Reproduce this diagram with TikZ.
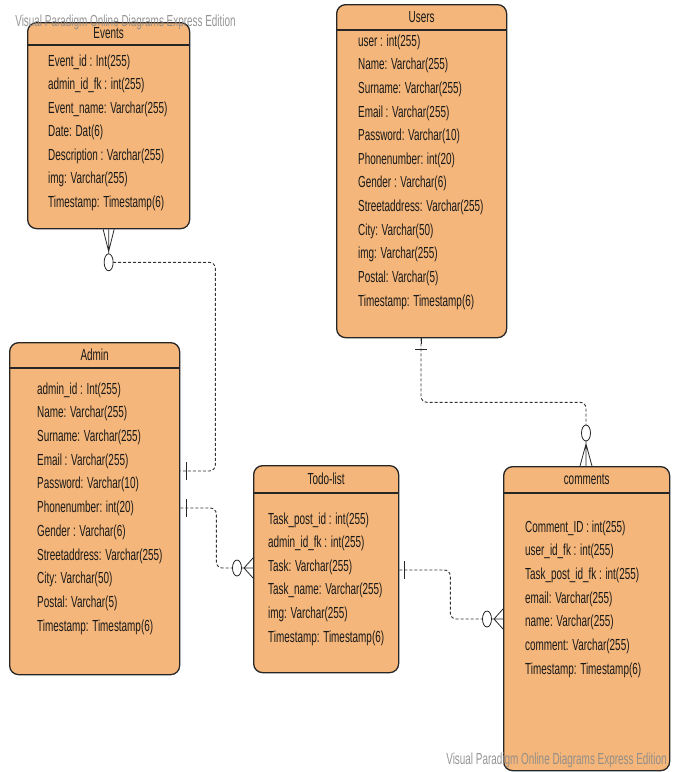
\documentclass[tikz,border=0pt]{standalone}
\usepackage{fontspec}
\setmainfont{Liberation Sans}[FakeStretch=0.62]
\usetikzlibrary{calc}

\definecolor{entfill}{HTML}{F4B67A}
\definecolor{entline}{HTML}{262626}
\definecolor{relline}{HTML}{333333}
\definecolor{wmark}{HTML}{8A8A8A}

\tikzset{
  entbox/.style={draw=entline, line width=1.3pt, fill=entfill, rounded corners=9pt,
                 inner sep=0pt, anchor=north west},
  hdr/.style={draw=entline, line width=1.3pt},
  title/.style={inner sep=0pt, font=\fontsize{16}{18}\selectfont, text=black!90},
  field/.style={inner sep=0pt, anchor=west, font=\fontsize{16}{18}\selectfont, text=black!90},
  rel/.style={draw=relline, line width=0.9pt, dash pattern=on 3pt off 2pt, rounded corners=6pt},
  bar/.style={draw=entline, line width=1pt},
  crow/.style={draw=entline, line width=0.8pt},
  optcirc/.style={draw=entline, line width=0.8pt, fill=white},
  wm/.style={inner sep=0pt, font=\fontsize{16}{18}\selectfont, text=wmark, opacity=0.9}
}

% one entity: name, x, y, width, height, header height, title
\newcommand\erentity[7]{%
  \node[entbox, minimum width=#4pt, minimum height=#5pt] (#1) at (#2,#3) {};
  \draw[hdr] ($(#1.north west)+(0,#6)$) -- ($(#1.north east)+(0,#6)$);
  \node[title] (#1-title) at ($(#1.north)+(0,#6/2)$) {#7};
}
% attribute lines: name, x, first y, step, list
\newcommand\erfields[5]{%
  \foreach \t [count=\i from 0] in {#5}{
    \node[field] (#1-f\i) at (#2,{#3+\i*#4}) {\t};
  }
}

\begin{document}
\begin{tikzpicture}[x=1pt,y=-1pt]
\useasboundingbox (0,0) rectangle (676,772);

% ---------- entities ----------
\erentity{events}{27}{22}{162}{206}{23}{Events}
\erfields{events}{48}{62}{23.5}{Event\_id : Int(255), admin\_id\_fk : int(255),
  Event\_name: Varchar(255), Date: Dat(6), Description : Varchar(255),
  img: Varchar(255), Timestamp: Timestamp(6)}

\erentity{users}{336}{4}{170}{333}{26}{Users}
\erfields{users}{358}{42}{23.64}{user : int(255), Name: Varchar(255),
  Surname: Varchar(255), Email : Varchar(255), Password: Varchar(10),
  Phonenumber: int(20), Gender : Varchar(6), Streetaddress: Varchar(255),
  City: Varchar(50), img: Varchar(255), Postal: Varchar(5),
  Timestamp: Timestamp(6)}

\erentity{admin}{9}{342}{170}{332}{26}{Admin}
\erfields{admin}{37}{390}{23.7}{admin\_id : Int(255), Name: Varchar(255),
  Surname: Varchar(255), Email : Varchar(255), Password: Varchar(10),
  Phonenumber: int(20), Gender : Varchar(6), Streetaddress: Varchar(255),
  City: Varchar(50), Postal: Varchar(5), Timestamp: Timestamp(6)}

\erentity{todo}{253}{465}{145}{207}{28}{Todo-list}
\erfields{todo}{268}{520}{23.6}{Task\_post\_id : int(255), admin\_id\_fk : int(255),
  Task: Varchar(255), Task\_name: Varchar(255), img: Varchar(255),
  Timestamp: Timestamp(6)}

\erentity{comments}{503}{466}{166}{304}{27}{comments}
\erfields{comments}{525}{528}{23.67}{Comment\_ID : int(255), user\_id\_fk : int(255),
  Task\_post\_id\_fk : int(255), email: Varchar(255), name: Varchar(255),
  comment: Varchar(255), Timestamp: Timestamp(6)}

% ---------- relationships ----------
% Admin (one) -- Events (zero or many)
\coordinate (ev-o)  at ($(events.south)+(0,33)$);
\coordinate (ad-a1) at ($(admin.north east)+(0,129)$);
\draw[rel] ($(ev-o)+(4.5,0)$) -| ($(ad-a1)+(35,0)$) -- (ad-a1);
\draw[crow] ($(events.south)+(-5.5,0)$) -- ($(events.south)+(0,22)$) -- ($(events.south)+(5.5,0)$)
            (events.south) -- ($(ev-o)+(0,-8.5)$);
\draw[optcirc] (ev-o) ellipse [x radius=4.5pt, y radius=8.5pt];
\draw[bar] ($(ad-a1)+(6,-9)$) -- ($(ad-a1)+(6,9)$);

% Admin (one) -- Todo-list (zero or many)
\coordinate (ad-a2) at ($(admin.north east)+(0,166)$);
\coordinate (td-a1) at ($(todo.north west)+(0,103)$);
\coordinate (td-o)  at ($(td-a1)+(-16,0)$);
\draw[rel] (ad-a2) -- ($(ad-a2)+(36,0)$) |- ($(td-o)+(-4.5,0)$);
\draw[crow] ($(td-a1)+(0,-10)$) -- ($(td-o)+(7,0)$) -- ($(td-a1)+(0,10)$)
            ($(td-o)+(4.5,0)$) -- (td-a1);
\draw[optcirc] (td-o) ellipse [x radius=4.5pt, y radius=8pt];
\draw[bar] ($(ad-a2)+(6,-9)$) -- ($(ad-a2)+(6,9)$);

% Todo-list (one) -- comments (zero or many)
\coordinate (td-a2) at ($(todo.north east)+(0,105)$);
\coordinate (cm-a1) at ($(comments.north west)+(0,153)$);
\coordinate (cm-o)  at ($(cm-a1)+(-16,0)$);
\draw[rel] (td-a2) -- ($(td-a2)+(51,0)$) |- ($(cm-o)+(-4.5,0)$);
\draw[crow] ($(cm-a1)+(0,-10)$) -- ($(cm-o)+(7,0)$) -- ($(cm-a1)+(0,10)$)
            ($(cm-o)+(4.5,0)$) -- (cm-a1);
\draw[optcirc] (cm-o) ellipse [x radius=4.5pt, y radius=8pt];
\draw[bar] ($(td-a2)+(5,-9)$) -- ($(td-a2)+(5,9)$);

% Users (one) -- comments (zero or many)
\coordinate (us-a)  at ($(users.south west)+(85,0)$);
\coordinate (cm-a2) at ($(comments.north west)+(83,0)$);
\coordinate (cm-o2) at ($(cm-a2)+(0,-33)$);
\draw[rel] (us-a) -- ($(us-a)+(0,64)$) -| ($(cm-o2)+(0,-8)$);
\draw[crow] ($(cm-a2)+(-6,0)$) -- ($(cm-o2)+(0,11)$) -- ($(cm-a2)+(6,0)$)
            ($(cm-o2)+(0,8)$) -- (cm-a2);
\draw[optcirc] (cm-o2) ellipse [x radius=4.5pt, y radius=8pt];
\draw[bar] (us-a) -- ($(us-a)+(0,6)$);
\draw[bar, line width=1.6pt] ($(us-a)+(-6,11)$) -- ($(us-a)+(6,11)$);

% ---------- edition marks ----------
\node[wm] (wm-top) at (125.5,22) {Visual Paradigm Online Diagrams Express Edition};
\node[wm] (wm-bottom) at (556.5,760) {Visual Paradigm Online Diagrams Express Edition};
\end{tikzpicture}
\end{document}
